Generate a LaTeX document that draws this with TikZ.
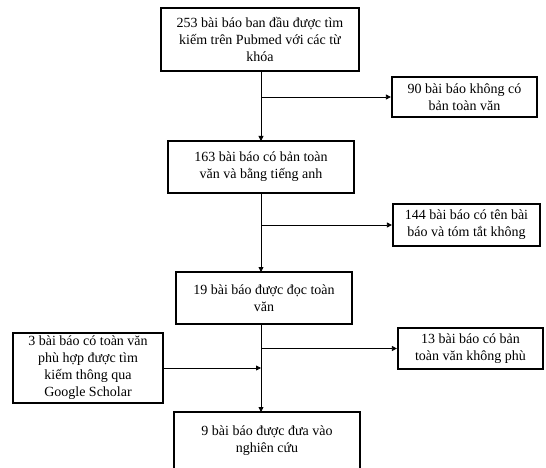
\documentclass[tikz,border=0pt]{standalone}
\usepackage{fontspec}
\setmainfont{Liberation Serif}
\usetikzlibrary{arrows.meta}
\begin{document}
\begin{tikzpicture}[x=1pt,y=-1pt,
  box/.style={draw=black,line width=2.2pt,align=center,inner sep=0pt,
    font=\fontsize{14}{17}\selectfont},
  conn/.style={draw=black,line width=0.8pt},
  arr/.style={conn,-{Triangle[length=5pt,width=5pt]}}]
\useasboundingbox (0,0) rectangle (546,468);
\node[box,minimum width=198pt,minimum height=63pt] (b1) at (260,39.5)
  {253 bài báo ban đầu được tìm\\kiếm trên Pubmed với các từ\\khóa};
\node[box,minimum width=145pt,minimum height=40pt] (b90) at (464.5,97)
  {90 bài báo không có\\bản toàn văn};
\node[box,minimum width=186pt,minimum height=52pt] (b2) at (261,167)
  {163 bài báo có bản toàn\\văn và bằng tiếng anh};
\node[box,minimum width=147pt,minimum height=42pt] (b144) at (466.5,225)
  {144 bài báo có tên bài\\báo và tóm tắt không};
\node[box,minimum width=176pt,minimum height=52pt] (b3) at (264,298)
  {19 bài báo được đọc toàn\\văn};
\node[box,minimum width=145pt,minimum height=41pt] (b13) at (470.5,348.5)
  {13 bài báo có bản\\toàn văn không phù};
\node[box,minimum width=150pt,minimum height=70pt] (bg) at (88,368)
  {3 bài báo có toàn văn\\phù hợp được tìm\\kiếm thông qua\\Google Scholar};
\node[box,minimum width=186pt,minimum height=66pt] (b9) at (267,445)
  {9 bài báo được đưa vào\\nghiên cứu\\[-6pt]\mbox{}};
\coordinate (t1) at (261,71);
\coordinate (j1) at (261,97);
\coordinate (e1) at (261,141);
\coordinate (t2) at (261,193);
\coordinate (j2) at (261,225);
\coordinate (e2) at (261,272);
\coordinate (t3) at (261,324);
\coordinate (j3) at (261,348.5);
\coordinate (j4) at (261,368);
\coordinate (e3) at (261,412);
\draw[arr] (t1) -- (e1);
\draw[arr] (j1) -- (b90.west);
\draw[arr] (t2) -- (e2);
\draw[arr] (j2) -- (b144.west);
\draw[arr] (t3) -- (e3);
\draw[arr] (j3) -- (b13.west);
\draw[arr] (bg.east) -- (j4);
\end{tikzpicture}
\end{document}
